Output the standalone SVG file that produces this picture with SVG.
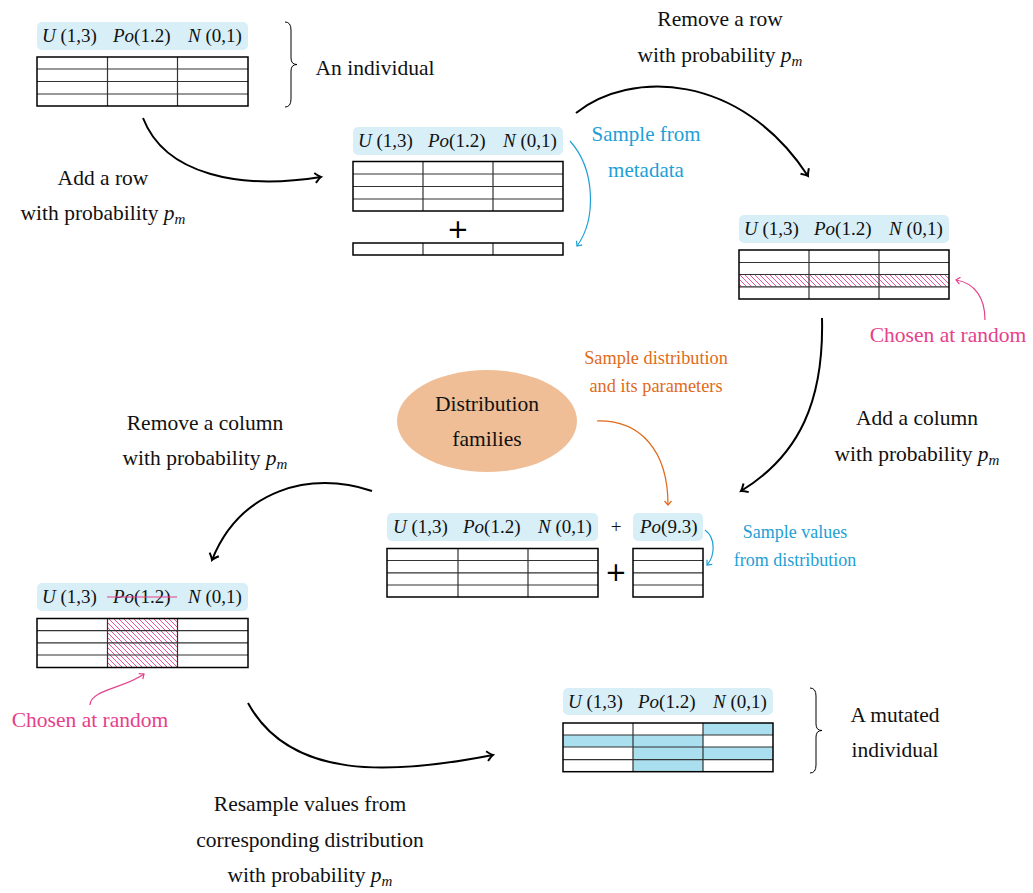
<svg xmlns="http://www.w3.org/2000/svg" width="1033" height="893" viewBox="0 0 1033 893" font-family="'Liberation Serif', 'Times New Roman', 'DejaVu Serif', serif">
<style>
.t{font-size:21.5px;fill:#111;text-anchor:middle;}
.h{font-size:19px;fill:#111;}
.i{font-style:italic;}
.pill{fill:#d8eff8;}
.outer{fill:none;stroke:#000;stroke-width:1.5;}
.in{stroke:#333;stroke-width:1.2;}
.blue{fill:#1ea0d6;}
.pink{fill:#e5418a;}
.orange{fill:#e06a1a;}
.big{font-size:26px;text-anchor:middle;fill:#000;}
.cell{fill:#aadff0;}
.arr{fill:none;stroke:#000;stroke-width:2;}
</style>
<defs>
<pattern id="hatch" patternUnits="userSpaceOnUse" width="5" height="5">
<path d="M0,0 L5,5 M-1,4 L1,6 M4,-1 L6,1" stroke="#e5418a" stroke-width="0.9"/>
</pattern>
<marker id="ak" markerUnits="userSpaceOnUse" markerWidth="14" markerHeight="14" refX="0" refY="0" viewBox="-8 -7 10 14" orient="auto">
<path d="M-6,-5 Q-2,-1 0,0 Q-2,1 -6,5" fill="none" stroke="#000" stroke-width="2"/>
</marker>
<marker id="ab" markerUnits="userSpaceOnUse" markerWidth="10" markerHeight="10" refX="0" refY="0" viewBox="-6 -5 7 10" orient="auto">
<path d="M-4,-3.5 L0,0 L-4,3.5" fill="none" stroke="#1ea0d6" stroke-width="1.2"/>
</marker>
<marker id="ao" markerUnits="userSpaceOnUse" markerWidth="10" markerHeight="10" refX="0" refY="0" viewBox="-6 -5 7 10" orient="auto">
<path d="M-4,-3.5 L0,0 L-4,3.5" fill="none" stroke="#e06a1a" stroke-width="1.2"/>
</marker>
<marker id="ap" markerUnits="userSpaceOnUse" markerWidth="10" markerHeight="10" refX="0" refY="0" viewBox="-6 -5 7 10" orient="auto">
<path d="M-4,-3.5 L0,0 L-4,3.5" fill="none" stroke="#e5418a" stroke-width="1.2"/>
</marker>
</defs>
<rect width="1033" height="893" fill="#fff"/>

<!-- Individual -->
<g id="individual" font-family="'Liberation Serif', serif">
<rect class="pill" x="37" y="22" width="211" height="28" rx="5"/>
<text class="h" x="42" y="42"><tspan class="i">U</tspan> (1,3)</text>
<text class="h" x="113" y="42"><tspan class="i">Po</tspan>(1.2)</text>
<text class="h" x="188" y="42"><tspan class="i">N</tspan> (0,1)</text>
<path class="in" d="M37,69H248M37,81.5H248M37,94H248M107.5,57V106M177.5,57V106"/>
<rect class="outer" x="37" y="57" width="211" height="49"/>
<path d="M285,22 Q291,22 291,30 V58 Q291,64.5 297,64.5 Q291,64.5 291,71 V99 Q291,107 285,107" fill="none" stroke="#000" stroke-width="1"/>
<text class="t" x="375" y="75">An individual</text>
</g>

<!-- Add row table -->
<g id="addrow" font-family="'Liberation Serif', serif">
<rect class="pill" x="353" y="127" width="210" height="28" rx="5"/>
<text class="h" x="358" y="147"><tspan class="i">U</tspan> (1,3)</text>
<text class="h" x="428" y="147"><tspan class="i">Po</tspan>(1.2)</text>
<text class="h" x="503" y="147"><tspan class="i">N</tspan> (0,1)</text>
<path class="in" d="M353,174H563M353,186.5H563M353,199H563M423,161.5V211M493,161.5V211"/>
<rect class="outer" x="353" y="161.5" width="210" height="49.5"/>
<text class="big" x="458" y="238" font-family="'DejaVu Sans', sans-serif">+</text>
<path class="in" d="M423,243V255M493,243V255"/>
<rect class="outer" x="353" y="243" width="210" height="12"/>
</g>

<!-- Remove row table -->
<g id="removerow" font-family="'Liberation Serif', serif">
<rect class="pill" x="739" y="215" width="210" height="28" rx="5"/>
<text class="h" x="744" y="235"><tspan class="i">U</tspan> (1,3)</text>
<text class="h" x="814" y="235"><tspan class="i">Po</tspan>(1.2)</text>
<text class="h" x="889" y="235"><tspan class="i">N</tspan> (0,1)</text>
<rect x="739" y="274.5" width="210" height="12" fill="url(#hatch)"/>
<path class="in" d="M739,262.5H949M739,274.5H949M739,286.8H949M809,250V299M879,250V299"/>
<rect class="outer" x="739" y="250" width="210" height="49"/>
<text class="t pink" x="948" y="342">Chosen at random</text>
</g>

<!-- Distribution families -->
<g id="families" font-family="'Liberation Serif', serif">
<ellipse cx="487" cy="421" rx="90" ry="51" fill="#efbe96"/>
<text class="t" x="487" y="411">Distribution</text>
<text class="t" x="487" y="446">families</text>
</g>

<!-- Add column table -->
<g id="addcolumn" font-family="'Liberation Serif', serif">
<rect class="pill" x="387" y="513" width="211" height="28" rx="5"/>
<text class="h" x="393" y="533"><tspan class="i">U</tspan> (1,3)</text>
<text class="h" x="463" y="533"><tspan class="i">Po</tspan>(1.2)</text>
<text class="h" x="538" y="533"><tspan class="i">N</tspan> (0,1)</text>
<path class="in" d="M387,560.5H598M387,572.8H598M387,585H598M458,548.5V597M528,548.5V597"/>
<rect class="outer" x="387" y="548.5" width="211" height="48.5"/>
<text class="h" x="616" y="533" text-anchor="middle">+</text>
<rect class="pill" x="633" y="513" width="70" height="28" rx="5"/>
<text class="h" x="640" y="533"><tspan class="i">Po</tspan>(9.3)</text>
<text class="big" x="616" y="581" font-family="'DejaVu Sans', sans-serif">+</text>
<path class="in" d="M633,560.5H703M633,572.8H703M633,585H703"/>
<rect class="outer" x="633" y="548.5" width="70" height="48.5"/>
</g>

<!-- Remove column table -->
<g id="removecolumn" font-family="'Liberation Serif', serif">
<rect class="pill" x="37" y="583" width="211" height="28" rx="5"/>
<text class="h" x="42" y="603"><tspan class="i">U</tspan> (1,3)</text>
<text class="h" x="113" y="603"><tspan class="i">Po</tspan>(1.2)</text>
<text class="h" x="188" y="603"><tspan class="i">N</tspan> (0,1)</text>
<line x1="107" y1="597" x2="177" y2="597" stroke="#e5418a" stroke-width="1.2"/>
<rect x="107.5" y="618.5" width="70" height="49" fill="url(#hatch)"/>
<path class="in" d="M37,630.7H248M37,642.8H248M37,655H248M107.5,618.5V667.5M177.5,618.5V667.5"/>
<rect class="outer" x="37" y="618.5" width="211" height="49"/>
<text class="t pink" x="90" y="727">Chosen at random</text>
</g>

<!-- Mutated individual -->
<g id="mutated" font-family="'Liberation Serif', serif">
<rect class="pill" x="563" y="688" width="210" height="27" rx="5"/>
<text class="h" x="568" y="708"><tspan class="i">U</tspan> (1,3)</text>
<text class="h" x="638" y="708"><tspan class="i">Po</tspan>(1.2)</text>
<text class="h" x="713" y="708"><tspan class="i">N</tspan> (0,1)</text>
<rect class="cell" x="703" y="723" width="70" height="12"/>
<rect class="cell" x="563" y="735" width="140" height="12"/>
<rect class="cell" x="633" y="747" width="140" height="12.7"/>
<rect class="cell" x="633" y="759.7" width="70" height="12"/>
<path class="in" d="M563,735H773M563,747H773M563,759.7H773M633,723V771.7M703,723V771.7"/>
<rect class="outer" x="563" y="723" width="210" height="48.7"/>
<path d="M810,688 Q816,688 816,696 V724 Q816,730.5 822,730.5 Q816,730.5 816,737 V765 Q816,773 810,773" fill="none" stroke="#000" stroke-width="1"/>
<text class="t" x="895" y="722">A mutated</text>
<text class="t" x="895" y="757">individual</text>
</g>

<!-- Connectors -->
<g id="connectors">
<path class="arr" d="M143,118 C165,175 240,190 321,177" marker-end="url(#ak)"/>
<path class="arr" d="M576,113 C630,70 740,72 808,176" marker-end="url(#ak)"/>
<path class="arr" d="M822,318 C824,400 800,455 741,491" marker-end="url(#ak)"/>
<path class="arr" d="M372,491 C310,470 240,490 212,560" marker-end="url(#ak)"/>
<path class="arr" d="M248,703 C290,780 390,775 493,755" marker-end="url(#ak)"/>
<path d="M570,141 C596,170 596,220 577,246" fill="none" stroke="#1ea0d6" stroke-width="1.2" marker-end="url(#ab)"/>
<path d="M705,530 C716,538 715,556 707,565" fill="none" stroke="#1ea0d6" stroke-width="1.2" marker-end="url(#ab)"/>
<path d="M597,421 C640,420 668,450 668,505" fill="none" stroke="#e06a1a" stroke-width="1.2" marker-end="url(#ao)"/>
<path d="M985,320 C985,298 975,283 956,280" fill="none" stroke="#e5418a" stroke-width="1.2" marker-end="url(#ap)"/>
<path d="M90,705 C90,690 125,688 144,674" fill="none" stroke="#e5418a" stroke-width="1.2" marker-end="url(#ap)"/>
</g>

<!-- Connector labels -->
<g id="labels" font-family="'Liberation Serif', serif">
<text class="t" x="103" y="185">Add a row</text>
<text class="t" x="103" y="220">with probability <tspan class="i">p</tspan><tspan class="i" font-size="15" dy="4">m</tspan></text>
<text class="t" x="720" y="26">Remove a row</text>
<text class="t" x="720" y="62">with probability <tspan class="i">p</tspan><tspan class="i" font-size="15" dy="4">m</tspan></text>
<text class="t blue" x="646" y="141" style="font-size:21px">Sample from</text>
<text class="t blue" x="646" y="177" style="font-size:21px">metadata</text>
<text class="t" x="917" y="425">Add a column</text>
<text class="t" x="917" y="461">with probability <tspan class="i">p</tspan><tspan class="i" font-size="15" dy="4">m</tspan></text>
<text class="t orange" x="656" y="364" style="font-size:18.3px">Sample distribution</text>
<text class="t orange" x="656" y="392" style="font-size:18.3px">and its parameters</text>
<text class="t blue" x="795" y="538" style="font-size:18px">Sample values</text>
<text class="t blue" x="795" y="566" style="font-size:18px">from distribution</text>
<text class="t" x="205" y="430">Remove a column</text>
<text class="t" x="205" y="465">with probability <tspan class="i">p</tspan><tspan class="i" font-size="15" dy="4">m</tspan></text>
<text class="t" x="310" y="811">Resample values from</text>
<text class="t" x="310" y="847">corresponding distribution</text>
<text class="t" x="310" y="882">with probability <tspan class="i">p</tspan><tspan class="i" font-size="15" dy="4">m</tspan></text>
</g>
</svg>
